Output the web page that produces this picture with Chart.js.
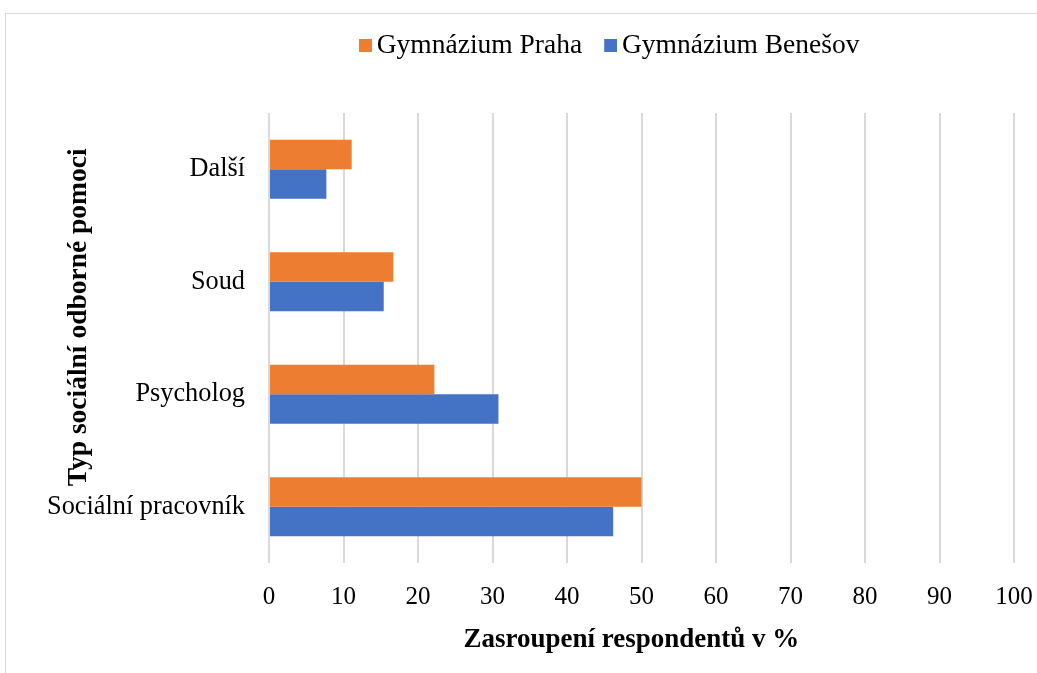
<!DOCTYPE html>
<html lang="cs">
<head>
<meta charset="utf-8">
<title>Typ sociální odborné pomoci</title>
<script src="https://cdn.jsdelivr.net/npm/chart.js@4/dist/chart.umd.min.js"></script>
<style>
    body { margin: 0; background: #fff; overflow: hidden; }
    #frame { position: absolute; left: 5px; top: 13px; width: 1100px; height: 700px; border: 1px solid #d9d9d9; }
    #wrap { position: absolute; left: 0; top: 0; width: 1037px; height: 673px; }
</style>
</head>
<body>
<div id="frame"></div>
<div id="wrap"><canvas id="helpChart"></canvas></div>
<script>
// Categories (top to bottom) and values in %
const categories = ['Další', 'Soud', 'Psycholog', 'Sociální pracovník'];
const prahaValues = [11.1, 16.7, 22.2, 50];
const benesovValues = [7.7, 15.4, 30.8, 46.2];
const xTicks = [0, 10, 20, 30, 40, 50, 60, 70, 80, 90, 100];

const prahaColor = '#ED7D31';
const benesovColor = '#4472C4';
const serif = "'Liberation Serif', 'Times New Roman', serif";

// Legend square as a small image: square sits in the right half so the gap to the text stays small
function legendSquare(color) {
    const c = document.createElement('canvas');
    c.width = 28;
    c.height = 13;
    const g = c.getContext('2d');
    g.fillStyle = color;
    g.fillRect(15, 0, 13, 13);
    return c;
}
const legendSquares = [legendSquare(prahaColor), legendSquare(benesovColor)];

// Legend is not centred on the canvas in the original, and has a big gap below it
const legendTweak = {
    id: 'legendTweak',
    beforeInit(chart) {
        const legend = chart.legend;
        const fit = legend.fit;
        legend.fit = function () {
            fit.call(this);
            this.height = 97; // plot starts at y = 113
        };
    },
    afterLayout(chart) {
        const legend = chart.legend;
        const dx = 337 - legend.left; // first square starts at ~359
        legend.left += dx;
        legend.right += dx;
    }
};

const ctx = document.getElementById('helpChart').getContext('2d');

new Chart(ctx, {
    type: 'bar',
    data: {
        labels: categories,
        datasets: [{
            label: 'Gymnázium Praha',
            data: prahaValues,
            backgroundColor: prahaColor,
            borderWidth: 0
        }, {
            label: 'Gymnázium Benešov',
            data: benesovValues,
            backgroundColor: benesovColor,
            borderWidth: 0
        }]
    },
    options: {
        indexAxis: 'y', // horizontal bars
        responsive: true,
        maintainAspectRatio: false,
        animation: false,
        categoryPercentage: 0.525,
        barPercentage: 1,
        layout: {
            padding: { top: 16, left: 30, right: 23, bottom: 0 }
        },
        scales: {
            x: {
                min: 0,
                max: 100,
                afterBuildTicks: scale => { scale.ticks = xTicks.map(v => ({ value: v })); },
                afterFit: scale => {
                    scale.height = 110;
                    scale.paddingLeft = 0; // "100" may hang over the plot edge
                    scale.paddingRight = 0;
                },
                grid: { color: '#d9d9d9', lineWidth: 2, drawTicks: false },
                border: { display: false },
                ticks: {
                    padding: 19,
                    color: '#000',
                    font: { family: serif, size: 25 }
                },
                title: {
                    display: true,
                    text: 'Zasroupení respondentů v %   ', // trailing spaces: title sits a bit left of centre
                    color: '#000',
                    font: { family: serif, size: 27, weight: 'bold' },
                    padding: { top: 0, bottom: 17 }
                }
            },
            y: {
                afterFit: scale => { scale.width = 239; },
                grid: { display: false },
                border: { display: false },
                ticks: {
                    padding: 16,
                    color: '#000',
                    font: { family: serif, size: 26.3 }
                },
                title: {
                    display: true,
                    text: '      Typ sociální odborné pomoci', // leading spaces: title sits a bit above centre
                    color: '#000',
                    font: { family: serif, size: 27.5, weight: 'bold' },
                    padding: { top: 32, bottom: 0 }
                }
            }
        },
        plugins: {
            legend: {
                display: true,
                position: 'top',
                align: 'start',
                labels: {
                    usePointStyle: true,
                    boxWidth: 10,
                    padding: 16,
                    color: '#000',
                    font: { family: serif, size: 27.5 },
                    generateLabels(chart) {
                        const items = Chart.defaults.plugins.legend.labels.generateLabels(chart);
                        items.forEach((item, i) => { item.pointStyle = legendSquares[i]; });
                        return items;
                    }
                }
            },
            tooltip: { enabled: false }
        }
    },
    plugins: [legendTweak]
});
</script>
</body>
</html>
